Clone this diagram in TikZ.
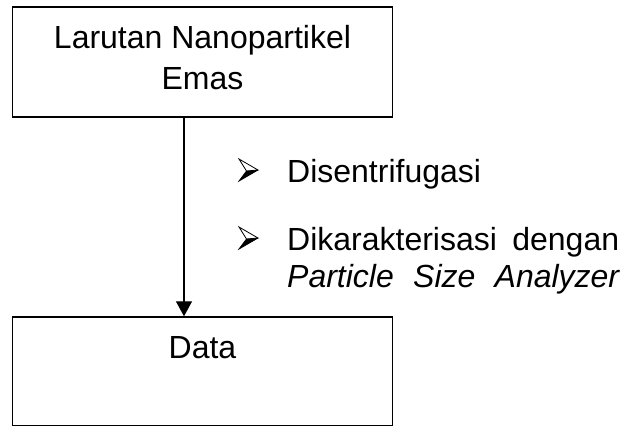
\documentclass[tikz,border=0pt]{standalone}
\usepackage{fontspec}
\setmainfont{Liberation Sans}
\usetikzlibrary{arrows.meta}

\tikzset{
  stagebox/.style={draw=black, line width=1.5bp, fill=white, inner sep=0pt},
  boxtext/.style={anchor=base, inner sep=0pt, font=\fontsize{32bp}{37bp}\selectfont},
  itemtext/.style={anchor=base west, inner sep=0pt, font=\fontsize{32bp}{37bp}\selectfont},
  flow/.style={draw=black, line width=1.2bp, -{Triangle[width=16bp,length=15bp]}},
  pics/arrowbullet/.style={code={
    % three-dimensional arrowhead bullet: light upper half, dark lower half
    \draw[line width=0.8bp, line join=miter, fill=white]
      (10,0) -- (-9,-11) -- (-1.5,1) -- cycle;
    \fill[black] (10,0) -- (-1.5,1) -- (-9,11) -- cycle;
    \draw[line width=0.8bp, line join=miter] (10,0) -- (-9,11) -- (-1.5,1);
  }}
}

\begin{document}
\begin{tikzpicture}[x=1bp, y=-1bp]
  \useasboundingbox (0,0) rectangle (630,426);

  % process boxes
  \node[stagebox, minimum width=380bp, minimum height=110bp] (src) at (202.5,62.2) {};
  \node[stagebox, minimum width=380bp, minimum height=108.5bp] (dst) at (202.5,371.3) {};

  \node[boxtext] (srcA) at (202.5,48) {Larutan Nanopartikel};
  \node[boxtext] (srcB) at (202.5,89) {Emas};
  \node[boxtext] (dstA) at (202.5,358) {Data};

  % connector
  \coordinate (ax) at (184,0);
  \draw[flow] (src.south -| ax) -- (dst.north -| ax);

  % process steps
  \pic at (248,170) {arrowbullet};
  \pic at (248,238) {arrowbullet};
  \node[itemtext] (step1) at (287,182) {Disentrifugasi};
  \node[itemtext, text width=332bp] (step2) at (287,250) {Dikarakterisasi\hfill dengan};
  \node[itemtext, text width=332bp] (step3) at (287,287) {\itshape Particle\hfill Size\hfill Analyzer};
\end{tikzpicture}
\end{document}
